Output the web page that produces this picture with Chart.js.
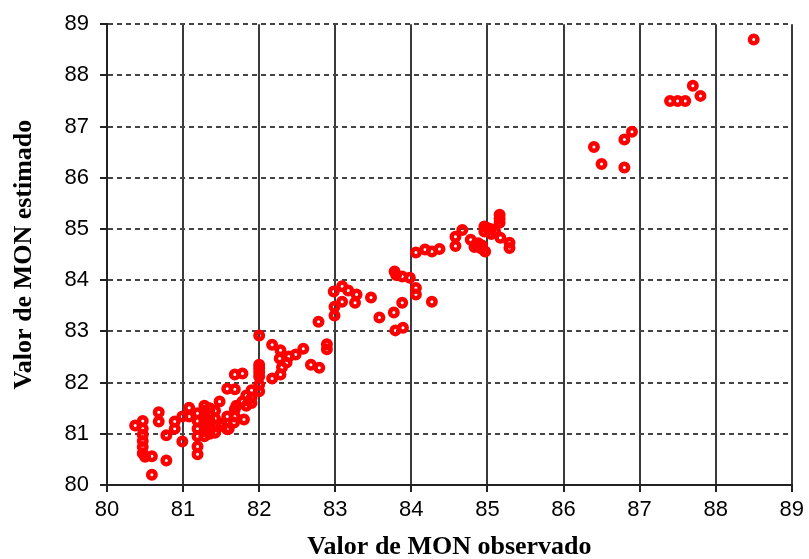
<!DOCTYPE html>
<html>
<head>
<meta charset="utf-8">
<script src="https://cdn.jsdelivr.net/npm/chart.js@4/dist/chart.umd.min.js"></script>
<style>
  html, body { margin: 0; padding: 0; background: #fff; }
  #wrap { width: 809px; height: 559px; }
</style>
</head>
<body>
<div id="wrap"><canvas id="chart"></canvas></div>
<script>
// valores
const xObservado = [
    88.5, 87.7, 87.8, 87.4, 87.5, 87.6, 86.9, 86.8, 86.4, 86.5, 86.8,
    84.06, 84.18, 84.27, 84.37, 84.58, 84.58, 84.67, 84.78, 84.83, 84.88, 84.92, 84.85, 84.97,
    84.96, 84.96, 85.0, 85.04, 85.1, 85.16, 85.16, 85.16, 85.17, 85.29, 85.29, 84.93, 85.05,
    83.78, 83.8, 83.88, 83.98, 84.06, 84.06, 83.88, 84.27, 83.77, 83.58, 83.79, 83.89,
    83.47, 83.28, 83.26, 83.17, 83.09, 83.09, 82.98, 82.99, 82.99, 82.78,
    82.89, 82.89, 82.79, 82.68, 82.58, 82.48, 82.39, 82.28, 82.27, 82.36, 82.28, 82.17, 82.17, 82.3,
    82.0, 82.0, 82.0, 82.0, 82.0, 82.0, 82.0,
    81.08, 81.08, 80.99, 80.89, 80.89, 80.78, 80.99, 81.19, 81.19, 80.68, 80.68, 80.47, 80.37,
    80.47, 80.47, 80.47, 80.47, 80.47, 80.5, 80.59, 80.78, 80.59,
    81.19, 81.19, 81.19, 81.19,
    81.28, 81.28, 81.28, 81.28, 81.28, 81.28, 81.28,
    81.35, 81.35, 81.35, 81.35, 81.35,
    81.42, 81.42, 81.42, 81.42,
    81.48, 81.5, 81.58, 81.58, 81.58, 81.68, 81.68, 81.67, 81.8, 81.7, 81.78, 81.83, 81.83,
    81.9, 81.9, 81.9, 81.68, 81.68, 81.78, 81.6, 81.5
];
const yEstimado = [
    88.7, 87.8, 87.6, 87.5, 87.5, 87.5, 86.9, 86.75, 86.6, 86.27, 86.2,
    84.54, 84.6, 84.56, 84.61, 84.85, 84.67, 84.98, 84.79, 84.65, 84.72, 84.62, 84.7, 84.56,
    85.05, 84.95, 85.02, 85.0, 84.95, 85.12, 85.2, 85.28, 84.83, 84.73, 84.63, 84.68, 84.9,
    84.17, 84.1, 84.07, 84.05, 83.85, 83.72, 83.56, 83.58, 83.37, 83.27, 83.02, 83.07,
    83.66, 83.72, 83.56, 83.8, 83.88, 83.58, 83.78, 83.48, 83.31, 83.19,
    82.75, 82.65, 82.29, 82.35, 82.66, 82.55, 82.51, 82.63, 82.47, 82.39, 82.16, 82.08, 82.74, 82.3,
    82.92, 82.35, 82.2, 82.12, 81.96, 81.83, 82.28,
    81.51, 81.34, 81.34, 81.24, 81.1, 80.97, 80.85, 80.75, 80.6, 81.42, 81.24, 81.25, 81.16,
    81.1, 80.98, 80.86, 80.74, 80.62, 80.55, 80.56, 80.48, 80.2,
    81.4, 81.25, 81.1, 80.95,
    81.55, 81.45, 81.35, 81.25, 81.15, 81.05, 80.95,
    81.5, 81.38, 81.25, 81.12, 81.0,
    81.45, 81.3, 81.15, 81.02,
    81.63, 81.2, 81.34, 81.09, 81.88, 81.34, 81.48, 81.22, 81.28, 81.55, 81.63, 81.75, 81.55,
    81.85, 81.7, 81.6, 81.87, 82.16, 82.18, 81.1, 81.15
];
const xTicks = [80, 81, 82, 83, 84, 85, 86, 87, 88, 89];
const yTicks = [80, 81, 82, 83, 84, 85, 86, 87, 88, 89];

let puntos = [];
for (let i = 0; i < xObservado.length; i++)
    puntos.push({x: xObservado[i], y: yEstimado[i]});

const tickFont = {family: '"Liberation Sans", Arial, sans-serif', size: 22};
const titleFont = {family: '"Liberation Serif", "Times New Roman", serif', size: 26, weight: 'bold'};

const config = {
    type: 'scatter',
    data: {
        datasets: [{
            data: puntos,
            pointStyle: 'circle',
            pointRadius: 3.75,
            pointBorderWidth: 4.5,
            borderColor: '#ff0000',
            backgroundColor: 'rgba(0,0,0,0)',
            pointHoverRadius: 3.75
        }]
    },
    options: {
        responsive: false,
        animation: false,
        layout: {padding: {top: 24, right: 13, left: 0, bottom: 0}},
        plugins: {legend: {display: false}, tooltip: {enabled: false}},
        scales: {
            x: {
                type: 'linear',
                min: 80, max: 89,
                afterBuildTicks: s => { s.ticks = xTicks.map(v => ({value: v})); },
                afterFit: s => { s.height = 74; },
                border: {color: '#222', width: 2},
                grid: {color: '#3a3a3a', lineWidth: 2, tickLength: 7, tickColor: '#222', tickWidth: 2},
                ticks: {color: '#000', font: tickFont, padding: 5, maxRotation: 0},
                title: {display: true, text: 'Valor de MON observado', color: '#000', font: titleFont, padding: {top: 4, bottom: -4}}
            },
            y: {
                type: 'linear',
                min: 80, max: 89,
                afterBuildTicks: s => { s.ticks = yTicks.map(v => ({value: v})); },
                afterFit: s => { s.width = 107; },
                border: {color: '#222', width: 2, dash: [5, 4]},
                grid: {color: '#444', lineWidth: 2, tickLength: 7,
                       tickBorderDash: [], tickColor: '#222', tickWidth: 2},
                ticks: {color: '#000', font: tickFont, padding: 11},
                title: {display: true, text: 'Valor de MON estimado', color: '#000', font: titleFont, padding: {top: 9, bottom: 0}}
            }
        }
    }
};

const canvas = document.getElementById('chart');
canvas.width = 809;
canvas.height = 559;
new Chart(canvas.getContext('2d'), config);
</script>
</body>
</html>
